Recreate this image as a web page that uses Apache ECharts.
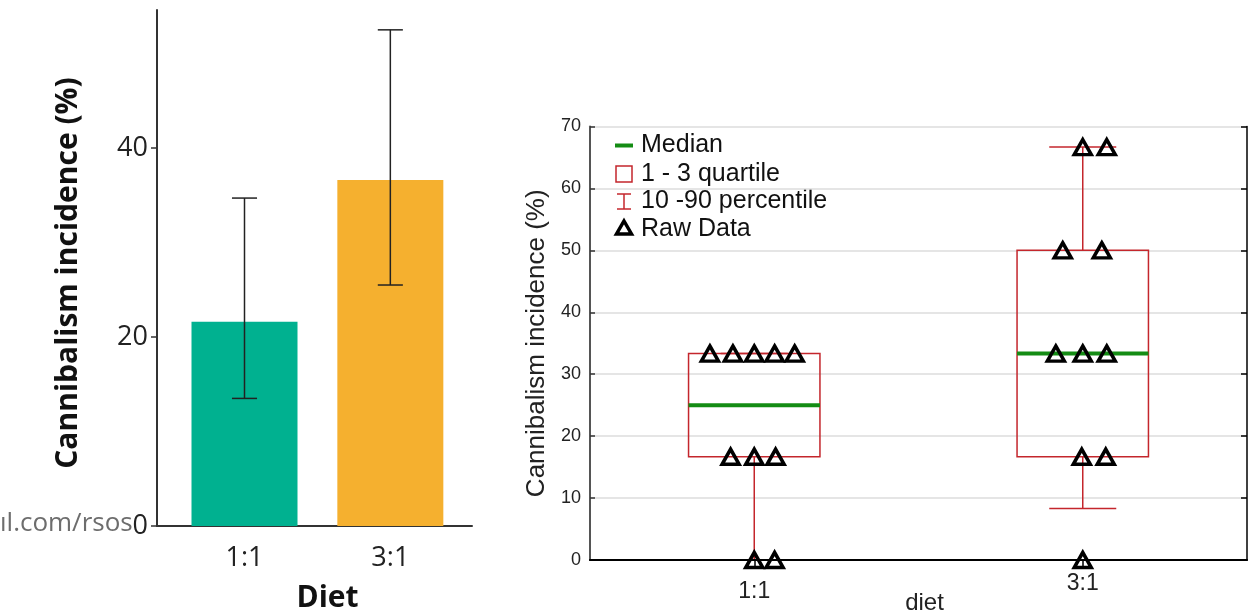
<!DOCTYPE html>
<html lang="en">
<head>
<meta charset="UTF-8" />
<title>Cannibalism incidence</title>
<style>
  html, body { margin: 0; padding: 0; background: #fff; }
  #main { width: 1251px; height: 615px; }
</style>
</head>
<body>
<div id="main"></div>
<script src="https://cdn.jsdelivr.net/npm/echarts@6/dist/echarts.min.js"></script>
<script>
// left panel: mean with error bar per diet
var dietLabels = ["1:1", "3:1"];
var meanValues = [21.6, 36.6];
var errLow = [13.5, 25.5];
var errHigh = [34.7, 52.5];
var leftTicks = [0, 20, 40];

// right panel: box plot summary per diet
var whiskerLow = [0, 8.33];
var quart1 = [16.67, 16.67];
var medianValues = [25, 33.33];
var quart3 = [33.33, 50];
var whiskerHigh = [33.33, 66.67];

// raw data per diet + horizontal jitter (in category widths)
var raw11 = [33.33, 33.33, 33.33, 33.33, 33.33, 16.67, 16.67, 16.67, 0, 0];
var jit11 = [-0.135, -0.065, 0, 0.062, 0.123, -0.072, 0, 0.065, 0, 0.062];
var raw31 = [66.67, 66.67, 50, 50, 33.33, 33.33, 33.33, 16.67, 16.67, 0];
var jit31 = [0, 0.073, -0.061, 0.058, -0.082, 0, 0.073, -0.003, 0.07, 0];

var red = "#c4262c";
var green = "#148c14";
var barColors = ["#00b190", "#f5b02f"];

var myChart = echarts.init(document.getElementById("main"), null, { renderer: "canvas" });

// build series data from the arrays
var barData = meanValues.map(function (v, i) {
  return { value: [i + 1, v], itemStyle: { color: barColors[i] } };
});
var errData = meanValues.map(function (v, i) {
  return [i + 1, errLow[i], errHigh[i]];
});
var boxData = quart1.map(function (q, i) {
  return [i + 0.5, quart1[i], quart3[i]];
});
var whiskData = quart1.map(function (q, i) {
  return [i + 0.5, whiskerLow[i], quart1[i], quart3[i], whiskerHigh[i]];
});
var medData = medianValues.map(function (m, i) {
  return [i + 0.5, m];
});
var rawData = [];
raw11.forEach(function (v, i) { rawData.push([0.5 + jit11[i], v]); });
raw31.forEach(function (v, i) { rawData.push([1.5 + jit31[i], v]); });

var boxHalf = 0.2;
var capHalf = 0.102;

function hLine(api, x1, x2, y, style) {
  var a = api.coord([x1, y]);
  var b = api.coord([x2, y]);
  return { type: "line", shape: { x1: a[0], y1: a[1], x2: b[0], y2: b[1] }, style: style };
}
function vLine(api, x, y1, y2, style) {
  var a = api.coord([x, y1]);
  var b = api.coord([x, y2]);
  return { type: "line", shape: { x1: a[0], y1: a[1], x2: b[0], y2: b[1] }, style: style };
}

var option = {
  animation: false,
  grid: [
    { left: 157, top: 10, width: 315, height: 516, outerBoundsMode: "none" },
    { left: 590, top: 126.5, width: 657, height: 433.5, outerBoundsMode: "none" }
  ],
  xAxis: [
    {
      gridIndex: 0, type: "value", min: 0.4, max: 2.56,
      axisLine: { show: true, lineStyle: { color: "#333", width: 2 } },
      axisTick: { show: false },
      splitLine: { show: false },
      axisLabel: {
        customValues: [1, 2],
        formatter: function (v) {
          return v === 1 || v === 2 ? dietLabels[v - 1] : "";
        },
        fontFamily: "Open Sans", fontSize: 27, color: "#222", margin: 19
      },
      name: "Diet", nameLocation: "middle", nameGap: 57, nameMoveOverlap: false,
      nameTextStyle: { fontFamily: "Open Sans", fontWeight: "bold", fontSize: 30, color: "#111", padding: [0, 0, 0, 26] }
    },
    {
      gridIndex: 1, type: "category", data: dietLabels, position: "bottom", z: 5,
      axisLine: { lineStyle: { color: "#000", width: 2 } },
      axisTick: { show: false },
      axisLabel: {
        margin: 12,
        formatter: function (v) { return v === "1:1" ? "{lo|" + v + "}" : "{hi|" + v + "}"; },
        rich: {
          lo: { fontFamily: "Liberation Sans", fontSize: 23, color: "#222", padding: [8, 0, 0, 0] },
          hi: { fontFamily: "Liberation Sans", fontSize: 23, color: "#222" }
        }
      },
      name: "diet", nameLocation: "middle", nameGap: 31, nameMoveOverlap: false,
      nameTextStyle: { fontFamily: "Liberation Sans", fontSize: 24, color: "#222", padding: [0, 0, 0, 12] }
    },
    {
      gridIndex: 1, type: "category", data: dietLabels, position: "top",
      axisLine: { lineStyle: { color: "#000", width: 1.5 } },
      axisTick: { show: true, inside: true, alignWithLabel: true, length: 6, lineStyle: { color: "#000", width: 1.5 } },
      axisLabel: { show: false }
    },
    {
      gridIndex: 1, type: "value", min: 0, max: 2, show: false
    }
  ],
  yAxis: [
    {
      gridIndex: 0, type: "value", min: 0, max: 54.6,
      axisLine: { show: true, lineStyle: { color: "#333", width: 2 } },
      axisTick: { show: true, length: 6, customValues: leftTicks, lineStyle: { color: "#333", width: 1.5 } },
      splitLine: { show: false },
      axisLabel: { customValues: leftTicks, fontFamily: "Open Sans", fontSize: 27, color: "#222", margin: 9 },
      name: "Cannibalism incidence (%)", nameLocation: "middle", nameGap: 74,
      nameTextStyle: { fontFamily: "Open Sans", fontWeight: "bold", fontSize: 30, color: "#111", padding: [0, 10, 0, 0] }
    },
    {
      gridIndex: 1, type: "value", min: 0, max: 70, interval: 10,
      axisLine: { show: true, lineStyle: { color: "#555", width: 2 } },
      axisTick: { show: true, inside: true, length: 5, lineStyle: { color: "#333", width: 1.5 } },
      splitLine: { show: true, lineStyle: { color: "#dcdcdc", width: 1.5 } },
      axisLabel: { fontFamily: "Liberation Sans", fontSize: 18, color: "#222", margin: 9 },
      name: "Cannibalism incidence (%)", nameLocation: "middle", nameGap: 40,
      nameTextStyle: { fontFamily: "Liberation Sans", fontSize: 26, color: "#222" }
    },
    {
      gridIndex: 1, type: "value", min: 0, max: 70, interval: 10, position: "right",
      axisLine: { show: true, lineStyle: { color: "#000", width: 1.5 } },
      axisTick: { show: true, inside: true, length: 6, lineStyle: { color: "#000", width: 1.5 } },
      splitLine: { show: false },
      axisLabel: { show: false }
    }
  ],
  graphic: [
    { type: "text", left: 0, top: 511, style: { text: "\u0131l.com/rsos", font: "26px 'Open Sans'", fill: "#6d6d6d" } },
    // legend of the box plot panel
    { type: "rect", shape: { x: 615, y: 143.5, width: 18, height: 4 }, style: { fill: green } },
    { type: "text", x: 641, y: 145, style: { text: "Median", font: "25px 'Liberation Sans'", fill: "#111", verticalAlign: "middle" } },
    { type: "rect", shape: { x: 616, y: 166, width: 16, height: 16 }, style: { fill: "none", stroke: red, lineWidth: 1.5 } },
    { type: "text", x: 641, y: 174, style: { text: "1 - 3 quartile", font: "25px 'Liberation Sans'", fill: "#111", verticalAlign: "middle" } },
    { type: "polyline", shape: { points: [[617, 194], [631, 194]] }, style: { stroke: red, lineWidth: 1.5 } },
    { type: "polyline", shape: { points: [[624, 194], [624, 209]] }, style: { stroke: red, lineWidth: 1.5 } },
    { type: "polyline", shape: { points: [[617, 209], [631, 209]] }, style: { stroke: red, lineWidth: 1.5 } },
    { type: "text", x: 641, y: 201.5, style: { text: "10 -90 percentile", font: "25px 'Liberation Sans'", fill: "#111", verticalAlign: "middle" } },
    { type: "polygon", shape: { points: [[624, 221], [631.5, 234], [616.5, 234]] }, style: { fill: "none", stroke: "#000", lineWidth: 3.5, lineJoin: "miter" } },
    { type: "text", x: 641, y: 229, style: { text: "Raw Data", font: "25px 'Liberation Sans'", fill: "#111", verticalAlign: "middle" } }
  ],
  series: [
    {
      type: "bar", xAxisIndex: 0, yAxisIndex: 0, barWidth: 106, data: barData, silent: true
    },
    {
      type: "custom", xAxisIndex: 0, yAxisIndex: 0, data: errData, silent: true, z: 3,
      renderItem: function (params, api) {
        var x = api.value(0);
        var st = { stroke: "#222", lineWidth: 1.5 };
        var cap = 0.086;
        return {
          type: "group",
          children: [
            vLine(api, x, api.value(1), api.value(2), st),
            hLine(api, x - cap, x + cap, api.value(1), st),
            hLine(api, x - cap, x + cap, api.value(2), st)
          ]
        };
      }
    },
    {
      name: "10 -90 percentile", type: "custom", xAxisIndex: 3, yAxisIndex: 1, data: whiskData, silent: true, z: 2,
      renderItem: function (params, api) {
        var x = api.value(0);
        var st = { stroke: red, lineWidth: 1.5 };
        return {
          type: "group",
          children: [
            vLine(api, x, api.value(1), api.value(2), st),
            vLine(api, x, api.value(3), api.value(4), st),
            hLine(api, x - capHalf, x + capHalf, api.value(1), st),
            hLine(api, x - capHalf, x + capHalf, api.value(4), st)
          ]
        };
      }
    },
    {
      name: "1 - 3 quartile", type: "custom", xAxisIndex: 3, yAxisIndex: 1, data: boxData, silent: true, z: 2,
      renderItem: function (params, api) {
        var x = api.value(0);
        var a = api.coord([x - boxHalf, api.value(2)]);
        var b = api.coord([x + boxHalf, api.value(1)]);
        return {
          type: "rect",
          shape: { x: a[0], y: a[1], width: b[0] - a[0], height: b[1] - a[1] },
          style: { fill: "none", stroke: red, lineWidth: 1.5 }
        };
      }
    },
    {
      name: "Median", type: "custom", xAxisIndex: 3, yAxisIndex: 1, data: medData, silent: true, z: 3,
      renderItem: function (params, api) {
        var x = api.value(0);
        return hLine(api, x - boxHalf, x + boxHalf, api.value(1), { stroke: green, lineWidth: 4 });
      }
    },
    {
      name: "Raw Data", type: "scatter", xAxisIndex: 3, yAxisIndex: 1, data: rawData, silent: true, z: 6,
      symbol: "triangle", symbolSize: [17, 15],
      itemStyle: { color: "rgba(0,0,0,0)", borderColor: "#000", borderWidth: 3.5, opacity: 1 }
    }
  ]
};

myChart.setOption(option);
</script>
</body>
</html>
